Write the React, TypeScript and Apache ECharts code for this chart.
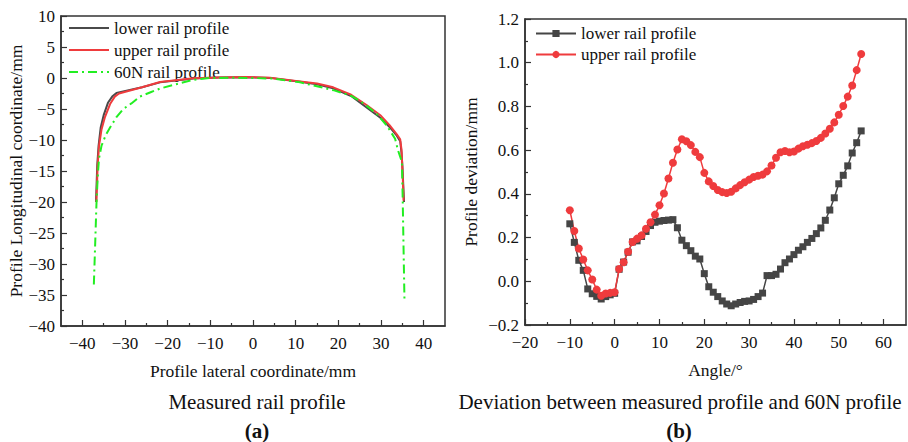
import React, { useEffect, useRef } from "react";
import * as echarts from "echarts";

// ---------- (a) measured rail profile ----------
const lowerX = [-36.8, -36.5, -36.2, -35.7, -35.0, -34.0, -33.0, -32.0, -26.0, -21.8, -14.0, -8.0, -2.0, 4.0, 11.0, 15.0, 18.8, 23.0, 26.7, 30.0, 32.0, 33.7, 34.5, 34.8, 35.0, 35.2, 35.4];
const lowerY = [-20, -14, -11, -8, -6, -4, -3, -2.4, -1.5, -0.7, -0.1, 0.08, 0.12, 0.02, -0.6, -1.0, -1.65, -2.9, -4.8, -6.5, -7.9, -9.3, -10.2, -12, -14, -17, -20];

const upperX = [-36.7, -36.4, -36.1, -35.5, -34.7, -33.5, -32.4, -31.4, -26.0, -21.8, -14.0, -8.0, -2.0, 4.0, 11.0, 15.0, 18.8, 23.0, 26.7, 30.0, 32.0, 33.7, 34.5, 34.8, 34.9, 35.1, 35.3];
const upperY = [-20, -14, -11, -8.3, -6.3, -4.2, -3.0, -2.5, -1.5, -0.65, -0.05, 0.1, 0.15, 0.05, -0.55, -0.9, -1.5, -2.7, -4.4, -6.1, -7.6, -9.1, -9.9, -11.5, -13, -16, -19.8];

const n60X = [-37.3, -37.0, -36.7, -36.4, -36.1, -35.5, -34.5, -33.5, -32.0, -30.4, -28.5, -26.5, -24.0, -21.8, -18.0, -14.0, -10.0, -4.0, 0.0, 5.0, 11.0, 16.0, 19.0, 22.8, 26.0, 29.0, 31.4, 33.3, 34.0, 34.9, 35.1, 35.3, 35.5];
const n60Y = [-33.3, -27, -20.5, -16, -13, -10.9, -9.2, -8.0, -6.3, -5.0, -4.1, -3.0, -2.3, -1.7, -1.0, -0.3, 0, 0.05, 0, -0.1, -0.7, -1.5, -2.0, -2.8, -4.1, -5.8, -7.7, -9.8, -11.7, -13.5, -20, -28, -35.8];

const aMajorX = [-40, -30, -20, -10, 0, 10, 20, 30, 40];
const aMinorX = [-35, -25, -15, -5, 5, 15, 25, 35];
const aLegend = ["lower rail profile", "upper rail profile", "60N rail profile"];

// ---------- (b) deviation ----------
const angles = [-10, -9, -8, -7, -6, -5, -4, -3, -2, -1, 0, 1, 2, 3, 4, 5, 6, 7, 8, 9, 10, 11, 12, 13, 14, 15, 16, 17, 18, 19, 20, 21, 22, 23, 24, 25, 26, 27, 28, 29, 30, 31, 32, 33, 34, 35, 36, 37, 38, 39, 40, 41, 42, 43, 44, 45, 46, 47, 48, 49, 50, 51, 52, 53, 54, 55];
const lowerDev = [0.263, 0.178, 0.096, 0.05, -0.035, -0.057, -0.069, -0.081, -0.07, -0.062, -0.055, 0.055, 0.088, 0.133, 0.18, 0.185, 0.205, 0.228, 0.255, 0.27, 0.275, 0.278, 0.28, 0.282, 0.245, 0.188, 0.163, 0.14, 0.115, 0.102, 0.035, -0.025, -0.05, -0.07, -0.09, -0.104, -0.112, -0.104, -0.097, -0.092, -0.09, -0.083, -0.07, -0.054, 0.026, 0.026, 0.032, 0.056, 0.085, 0.102, 0.122, 0.142, 0.158, 0.178, 0.196, 0.218, 0.244, 0.279, 0.326, 0.382, 0.446, 0.485, 0.528, 0.587, 0.634, 0.688];
const upperDev = [0.325, 0.23, 0.15, 0.1, 0.05, 0.008, -0.038, -0.066, -0.056, -0.053, -0.05, 0.056, 0.087, 0.135, 0.18, 0.195, 0.21, 0.24, 0.27, 0.305, 0.348, 0.402, 0.47, 0.542, 0.603, 0.65, 0.641, 0.623, 0.592, 0.568, 0.496, 0.457, 0.436, 0.418, 0.408, 0.404, 0.41, 0.425, 0.44, 0.453, 0.465, 0.477, 0.483, 0.488, 0.503, 0.53, 0.565, 0.59, 0.596, 0.59, 0.594, 0.607, 0.618, 0.625, 0.632, 0.642, 0.656, 0.676, 0.698, 0.727, 0.762, 0.802, 0.845, 0.896, 0.966, 1.04];

const bMajorX = [-20, -10, 0, 10, 20, 30, 40, 50, 60];
const bMinorX = [-15, -5, 5, 15, 25, 35, 45, 55];

const FONT = "Liberation Serif";
const AXIS = "#333";
const TXT = "#111";
const C_LOW = "#4a4a4a";
const C_UP = "#ef3b3d";
const C_60 = "#22ee22";

const zip = (xs: number[], ys: number[]) => xs.map((x, i) => [x, ys[i]]);
const minus = (s: string) => s.replace("-", "\u2212");

export default function App() {
  const ref = useRef<HTMLDivElement>(null);
  useEffect(() => {
    if (!ref.current) return;
    const chart = echarts.init(ref.current, undefined, { renderer: "svg" });
    const labelStyle = { fontFamily: FONT, fontSize: 17, color: TXT };
    const nameStyle = { fontFamily: FONT, fontSize: 17.5, color: TXT };
    const mainX = (grid: number, min: number, max: number, vals: number[], name: string) => ({
      type: "value", gridIndex: grid, min, max, interval: 5, position: "bottom",
      axisLine: { show: true, onZero: false, lineStyle: { color: AXIS, width: 1.5 } },
      axisTick: { show: true, inside: true, length: 6, customValues: vals, lineStyle: { color: AXIS, width: 1.2 } },
      axisLabel: { ...labelStyle, margin: 9, customValues: vals, formatter: (v: number) => minus(String(v)) },
      splitLine: { show: false },
      name, nameLocation: "middle", nameGap: 36, nameTextStyle: nameStyle,
    });
    const minorX = (grid: number, min: number, max: number, vals: number[]) => ({
      type: "value", gridIndex: grid, min, max, interval: 5, position: "bottom",
      axisLine: { show: false, onZero: false },
      axisTick: { show: true, inside: true, length: 3, customValues: vals, lineStyle: { color: AXIS, width: 1.2 } },
      axisLabel: { show: false },
      splitLine: { show: false },
    });
    const legendLines: any[] = [];
    const legendColors = [C_LOW, C_UP, C_60];
    aLegend.forEach((name, i) => {
      const y = 28 + i * 22;
      legendLines.push({
        type: "line", shape: { x1: 69, y1: y, x2: 109, y2: y },
        style: { stroke: legendColors[i], lineWidth: 2, lineDash: i === 2 ? [9, 4, 2, 4] : null },
      });
      legendLines.push({
        type: "text", x: 114, y,
        style: { text: name, fontFamily: FONT, fontSize: 17, fill: TXT, textAlign: "left", textVerticalAlign: "middle" },
      });
    });
    const title = (x: number, y: number, text: string, bold: boolean) => ({
      type: "text", x, y,
      style: { text, fontFamily: FONT, fontSize: 21, fontWeight: bold ? "bold" : "normal", fill: TXT, textAlign: "center", textVerticalAlign: "middle" },
    });
    const option: any = {
      animation: false,
      backgroundColor: "#fff",
      textStyle: { fontFamily: FONT },
      grid: [
        { left: 61, top: 16, width: 384, height: 310, show: true, borderColor: AXIS, borderWidth: 1.5 },
        { left: 525, top: 19, width: 381, height: 306, show: true, borderColor: AXIS, borderWidth: 1.5 },
      ],
      xAxis: [
        mainX(0, -45, 45, aMajorX, "Profile lateral coordinate/mm"),
        minorX(0, -45, 45, aMinorX),
        mainX(1, -20, 65, bMajorX, "Angle/\u00b0"),
        minorX(1, -20, 65, bMinorX),
      ],
      yAxis: [
        {
          type: "value", gridIndex: 0, min: -40, max: 10, interval: 5,
          axisLine: { show: true, onZero: false, lineStyle: { color: AXIS, width: 1.5 } },
          axisTick: { show: true, inside: true, length: 6, lineStyle: { color: AXIS, width: 1.2 } },
          minorTick: { show: true, splitNumber: 2, length: 3, lineStyle: { color: AXIS, width: 1.2 } },
          axisLabel: { ...labelStyle, margin: 6, formatter: (v: number) => minus(String(v)) },
          splitLine: { show: false },
          name: "Profile Longitudinal coordinate/mm", nameLocation: "middle", nameGap: 36, nameRotate: 90,
          nameTextStyle: nameStyle,
        },
        {
          type: "value", gridIndex: 1, min: -0.2, max: 1.2, interval: 0.2,
          axisLine: { show: true, onZero: false, lineStyle: { color: AXIS, width: 1.5 } },
          axisTick: { show: true, inside: true, length: 6, lineStyle: { color: AXIS, width: 1.2 } },
          minorTick: { show: true, splitNumber: 2, length: 3, lineStyle: { color: AXIS, width: 1.2 } },
          axisLabel: { ...labelStyle, margin: 6, formatter: (v: number) => minus(v.toFixed(1)) },
          splitLine: { show: false },
          name: "Profile deviation/mm", nameLocation: "middle", nameGap: 45, nameRotate: 90,
          nameTextStyle: nameStyle,
        },
      ],
      legend: [
        {
          left: 535, top: 25, orient: "vertical", itemWidth: 40, itemHeight: 9, itemGap: 4, padding: 0,
          selectedMode: false,
          data: ["lower rail profile (b)", "upper rail profile (b)"],
          formatter: (n: string) => n.replace(" (b)", ""),
          textStyle: { fontFamily: FONT, fontSize: 17, color: TXT },
        },
      ],
      series: [
        {
          type: "line", name: "lower rail profile", xAxisIndex: 0, yAxisIndex: 0, symbol: "none",
          data: zip(lowerX, lowerY), color: C_LOW, lineStyle: { width: 2, color: C_LOW },
        },
        {
          type: "line", name: "upper rail profile", xAxisIndex: 0, yAxisIndex: 0, symbol: "none",
          data: zip(upperX, upperY), color: C_UP, lineStyle: { width: 2, color: C_UP },
        },
        {
          type: "line", name: "60N rail profile", xAxisIndex: 0, yAxisIndex: 0, symbol: "none",
          data: zip(n60X, n60Y), color: C_60, lineStyle: { width: 2, color: C_60, type: [9, 4, 2, 4] },
        },
        {
          type: "line", name: "lower rail profile (b)", xAxisIndex: 2, yAxisIndex: 1, symbol: "rect", symbolSize: 7,
          data: zip(angles, lowerDev), color: "#454545",
          itemStyle: { color: "#454545" }, lineStyle: { width: 1.5, color: "#454545" },
        },
        {
          type: "line", name: "upper rail profile (b)", xAxisIndex: 2, yAxisIndex: 1, symbol: "circle", symbolSize: 8,
          data: zip(angles, upperDev), color: C_UP,
          itemStyle: { color: C_UP }, lineStyle: { width: 1.5, color: C_UP },
        },
      ],
      graphic: [
        ...legendLines,
        title(257, 402, "Measured rail profile", false),
        title(257, 431, "(a)", true),
        title(680, 402, "Deviation between measured profile and 60N profile", false),
        title(679, 431, "(b)", true),
      ],
    };
    chart.setOption(option);
    return () => chart.dispose();
  }, []);
  return (
    <div
      ref={ref}
      style={{ position: "absolute", left: 0, top: 0, width: 908, height: 442, background: "#fff" }}
    />
  );
}
